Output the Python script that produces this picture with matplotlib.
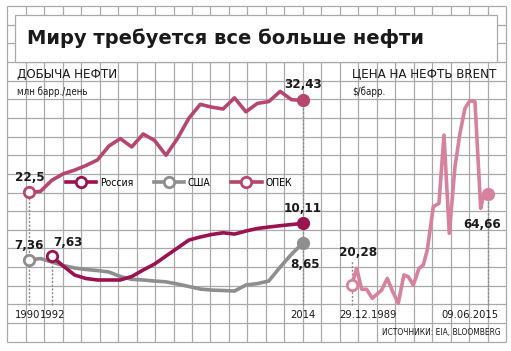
import matplotlib.pyplot as plt
import pandas as pd
from matplotlib.lines import Line2D
from matplotlib.patches import Rectangle

# oil production, mln barrels per day
years = list(range(1990, 2015))
opec = [22.5, 22.6, 23.8, 24.5, 24.9, 25.4, 26.0, 27.5, 28.3, 27.4, 28.8, 28.1, 26.5,
        28.3, 30.5, 32.0, 31.7, 31.5, 32.7, 31.2, 32.1, 32.3, 33.4, 32.5, 32.43]
usa = [7.36, 7.47, 7.21, 6.95, 6.76, 6.65, 6.57, 6.46, 6.12, 5.91, 5.86, 5.78, 5.72,
       5.56, 5.37, 5.18, 5.10, 5.07, 5.03, 5.48, 5.59, 5.78, 6.83, 7.8, 8.65]
russia_years = list(range(1992, 2015))
russia = [7.63, 6.91, 6.23, 5.97, 5.86, 5.86, 5.86, 6.12, 6.61, 7.06, 7.66, 8.26, 8.86,
          9.09, 9.28, 9.41, 9.31, 9.54, 9.73, 9.84, 9.94, 10.03, 10.11]

# brent, $ per barrel
brent_dates = pd.to_datetime([
    '1989-12-29', '1990-12-05', '1991-11-10', '1992-10-15', '1993-11-01', '1995-08-05',
    '1996-08-25', '1997-09-01', '1998-09-15', '1999-10-05', '2000-08-01', '2001-07-10',
    '2002-08-01', '2003-05-20', '2004-02-20', '2005-04-05', '2006-04-25', '2007-04-05',
    '2008-04-01', '2009-04-25', '2010-04-01', '2011-03-10', '2012-02-15', '2013-01-20',
    '2014-02-15', '2014-08-10', '2015-06-09'])
brent = [20.28, 28.4, 18.2, 18.2, 13.8, 17.8, 23.5, 17.0, 11.4, 25.2, 24.3, 20.3,
         28.4, 30.0, 37.4, 58.5, 60.1, 93.4, 45.5, 78.0, 94.3, 106.5, 110.2, 109.7,
         57.7, 63.4, 64.66]

C_OPEC = '#b5476f'
C_RUS = '#9a1350'
C_USA = '#8e8e8e'
C_BRENT = '#d6819d'
C_GRID = '#a9a9a9'
C_TEXT = '#1a1a1a'
NARROW = dict(family='DejaVu Sans', stretch='condensed')

W, H = 511, 351


def px_rect(x0, y0, x1, y1):
    return [x0 / W, 1 - y1 / H, (x1 - x0) / W, (y1 - y0) / H]


fig = plt.figure(figsize=(W / 100, H / 100), dpi=100)
fig.patch.set_facecolor('white')

# background grid paper
bg = fig.add_axes([0, 0, 1, 1])
bg.set_xlim(0, W)
bg.set_ylim(H, 0)
bg.axis('off')
for k in range(28):
    x = 7.3 + k * 18.47
    bg.plot([x, x], [6, 341.7], color=C_GRID, lw=0.9, solid_capstyle='butt')
for k in range(19):
    y = 6 + k * 18.65
    bg.plot([7.3, 506], [y, y], color=C_GRID, lw=0.9, solid_capstyle='butt')
bg.add_patch(Rectangle((15, 15), 482, 46.9, fc='white', ec=C_GRID, lw=0.9, zorder=3))

bg.text(27, 38, 'Миру требуется все больше нефти', fontsize=14, fontweight='heavy',
        color=C_TEXT, va='center', ha='left', zorder=4)
bg.text(17, 74, 'ДОБЫЧА НЕФТИ', fontsize=9.5, color=C_TEXT, va='center', **NARROW)
bg.text(17, 92, 'млн барр./день', fontsize=7, color=C_TEXT, va='center', **NARROW)
bg.text(352, 74, 'ЦЕНА НА НЕФТЬ BRENT', fontsize=9.5, color=C_TEXT, va='center', **NARROW)
bg.text(352, 92, '$/барр.', fontsize=7, color=C_TEXT, va='center', **NARROW)
bg.text(501, 333, 'ИСТОЧНИКИ: EIA, BLOOMBERG', fontsize=6, color=C_TEXT,
        va='center', ha='right', **NARROW)

# production chart: two scales on one panel
ax_opec = fig.add_axes(px_rect(29, 90, 303, 305))
ax_opec.set_xlim(1990, 2014)
ax_opec.set_ylim(10.33, 33.55)
ax_opec.axis('off')
ax_low = ax_opec.twinx()
ax_low.set_ylim(3.98, 20.14)
ax_low.axis('off')

lw = 2.6
ms = 7.5


def draw_series(ax, xs, ys, color, z):
    ax.plot(xs, ys, color=color, lw=lw, clip_on=False, zorder=z, solid_capstyle='round')
    ax.plot(xs[0], ys[0], 'o', ms=ms, mfc='white', mec=color, mew=2, clip_on=False, zorder=z + 1)
    ax.plot(xs[-1], ys[-1], 'o', ms=ms + 1, color=color, clip_on=False, zorder=z + 1)


def drop_line(ax, x, y):
    ax.plot([x, x], [ax.get_ylim()[0], y], color='#8a8a8a', lw=1,
            ls=(0, (1.5, 1.2)), clip_on=False, zorder=1)


def value_label(ax, x, y, text, dx, dy):
    ax.annotate(text, xy=(x, y), xytext=(dx, dy), textcoords='offset pixels',
                ha='center', va='center', fontsize=9.5, fontweight='bold', color=C_TEXT,
                **NARROW)


def tick_label(ax, x, text, dx, ha='center'):
    ax.annotate(text, xy=(x, 0), xycoords=('data', 'axes fraction'), xytext=(dx, -10),
                textcoords='offset pixels', ha=ha, va='center', fontsize=8,
                color=C_TEXT, **NARROW)


drop_line(ax_opec, years[0], opec[0])
drop_line(ax_opec, years[-1], opec[-1])
drop_line(ax_low, russia_years[0], russia[0])

draw_series(ax_low, years, usa, C_USA, 3)
draw_series(ax_low, russia_years, russia, C_RUS, 5)
draw_series(ax_opec, years, opec, C_OPEC, 3)

value_label(ax_opec, years[0], opec[0], '22,5', 1, 15)
value_label(ax_opec, years[-1], opec[-1], '32,43', 0, 16)
value_label(ax_low, russia_years[-1], russia[-1], '10,11', 0, 15)
value_label(ax_low, years[0], usa[0], '7,36', 0, 15)
value_label(ax_low, russia_years[0], russia[0], '7,63', 16, 14)
value_label(ax_low, years[-1], usa[-1], '8,65', 2, -22)

tick_label(ax_opec, 1990, '1990', -1)
tick_label(ax_opec, 1992, '1992', 1)
tick_label(ax_opec, 2014, '2014', 0)

handles = [Line2D([], [], color=c, lw=lw, marker='o', ms=ms, mfc='white', mec=c, mew=2)
           for c in (C_RUS, C_USA, C_OPEC)]
fig.legend(handles, ['Россия', 'США', 'ОПЕК'], loc='center left',
           bbox_to_anchor=(66 / W, 1 - 183 / H), ncol=3, frameon=False,
           prop={'family': 'DejaVu Sans', 'stretch': 'condensed', 'size': 7.5},
           handlelength=2.9, handletextpad=0.35, columnspacing=2.0,
           borderpad=0, borderaxespad=0)

# brent chart
ax_b = fig.add_axes(px_rect(351.7, 90, 487.7, 305))
ax_b.set_xlim(brent_dates[0], brent_dates[-1])
ax_b.set_ylim(10.53, 115.4)
ax_b.axis('off')

drop_line(ax_b, brent_dates[0], brent[0] + 12)
drop_line(ax_b, brent_dates[-1], brent[-1])
draw_series(ax_b, brent_dates, brent, C_BRENT, 3)
value_label(ax_b, brent_dates[0], brent[0], '20,28', 6, 33)
value_label(ax_b, brent_dates[-1], brent[-1], '64,66', -6, -30)
tick_label(ax_b, brent_dates[0], '29.12.1989', -12, ha='left')
tick_label(ax_b, brent_dates[-1], '09.06.2015', 11, ha='right')

fig.savefig('out.png', dpi=100)
